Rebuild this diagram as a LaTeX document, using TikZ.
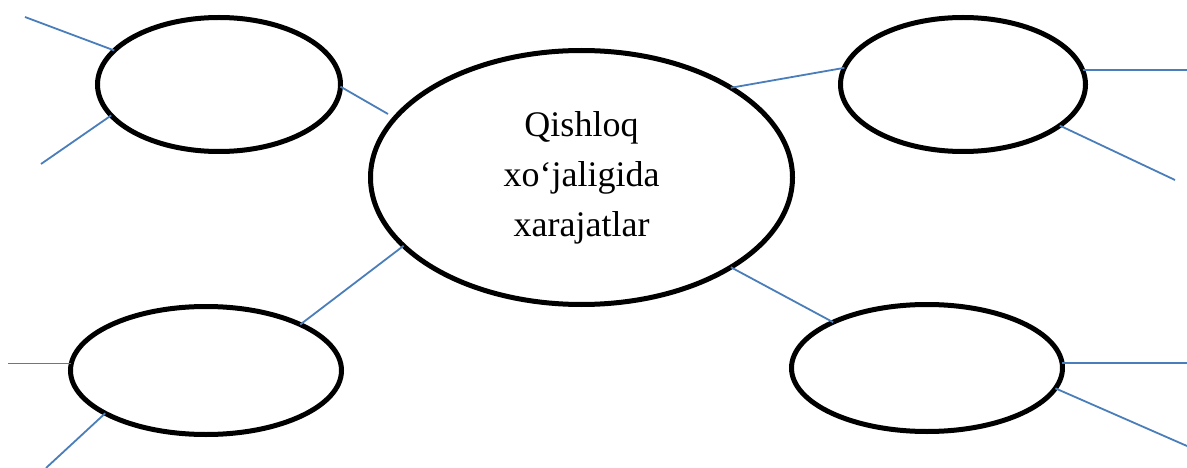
\documentclass[tikz,border=0pt]{standalone}
\usepackage{fontspec}
\setmainfont{Liberation Serif}
\usetikzlibrary{shapes.geometric}
\definecolor{linkblue}{RGB}{74,126,187}
\tikzset{
  bubble/.style={ellipse, draw=black, line width=5pt, fill=white, inner sep=0pt, outer sep=0pt},
  link/.style={draw=linkblue, line width=1.8pt}
}
\begin{document}
\begin{tikzpicture}[x=1pt,y=-1pt]
\useasboundingbox (0,0) rectangle (1187,468);
% nodes
\node[bubble, minimum width=422pt, minimum height=254pt, align=center,
      font=\fontsize{36}{50}\selectfont] (c) at (581.5,177.5) {Qishloq\\xo‘jaligida\\xarajatlar};
\node[bubble, minimum width=243pt, minimum height=134pt] (tl) at (219,84.5) {};
\node[bubble, minimum width=245pt, minimum height=134pt] (tr) at (963,84.5) {};
\node[bubble, minimum width=271pt, minimum height=128pt] (bl) at (206,370.5) {};
\node[bubble, minimum width=271pt, minimum height=127pt] (br) at (927,368) {};
% free ends
\coordinate (tlA) at (25,17);
\coordinate (tlB) at (41,164);
\coordinate (tlC) at (388,114);
\coordinate (trB) at (1187,68);
\coordinate (trC) at (1175,180);
\coordinate (blB) at (8,365);
\coordinate (blC) at (46,468);
\coordinate (brB) at (1187,363);
\coordinate (brC) at (1187,446);
% connectors
\draw[link] (tl.162) -- (tlA);
\draw[link] (tl.196.4) -- (tlB);
\draw[link] (tl.-1.2) -- (tlC);
\draw[link] (c.31) -- (tr.172);
\draw[link] (tr.7.8) -- (tr.7.8 -| trB);
\draw[link] (tr.-23.5) -- (trC);
\draw[link] (c.201.8) -- (bl.26.8);
\draw[link] (bl.177.7) -- (bl.177.7 -| blB);
\draw[link] (bl.203.3) -- (blC);
\draw[link] (c.-31.1) -- (br.154.6);
\draw[link] (br.2.2) -- (br.2.2 -| brB);
\draw[link] (br.-9.9) -- (brC);
\end{tikzpicture}
\end{document}
